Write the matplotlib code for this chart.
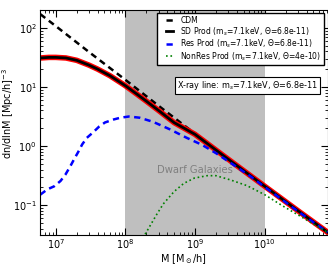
import matplotlib
matplotlib.use("Agg")
import matplotlib.pyplot as plt
from matplotlib.legend_handler import HandlerLine2D

# halo masses [M_sun/h] and dn/dlnM [(Mpc/h)^-3]
cdm_mass = [6e6, 1e7, 3e7, 1e8, 3e8, 1e9, 3e9, 1e10, 3e10, 8e10]
cdm_dn = [170, 107, 39, 13.2, 4.8, 1.62, 0.60, 0.21, 0.081, 0.035]

sd_mass = [6e6, 8e6, 1e7, 1.4e7, 2e7, 3e7, 4e7, 6e7, 1e8, 1.5e8, 2e8, 3e8,
           5e8, 1e9, 3e9, 1e10, 3e10, 8e10]
sd_dn = [30.9, 31.6, 31.6, 30.9, 28.2, 23.4, 20.0, 15.5, 10.5, 7.4, 5.75, 4.0,
         2.5, 1.58, 0.60, 0.21, 0.081, 0.035]

res_mass = [6.0e6, 7.6e6, 9.5e6, 1.17e7, 1.38e7, 1.62e7, 1.82e7, 2.1e7, 2.4e7,
            2.8e7, 3.5e7, 4.2e7, 5.1e7, 6.8e7, 8.5e7, 1.12e8, 1.6e8, 2.5e8,
            4.4e8, 7.6e8, 1.26e9, 2.0e9, 3.5e9, 6.2e9, 1e10, 3e10, 8e10]
res_dn = [0.151, 0.186, 0.209, 0.257, 0.331, 0.457, 0.589, 0.794, 1.07,
          1.38, 1.74, 2.14, 2.51, 2.82, 3.02, 3.16, 3.02, 2.57,
          1.91, 1.38, 1.05, 0.76, 0.49, 0.31, 0.204, 0.079, 0.035]

nonres_mass = [1.78e8, 2.0e8, 2.8e8, 3.5e8, 5e8, 6.9e8, 9.8e8, 1.5e9, 2.0e9,
               3.2e9, 5.6e9, 1e10, 1.8e10, 3.2e10, 5.5e10, 8e10]
nonres_dn = [0.028, 0.035, 0.069, 0.105, 0.17, 0.234, 0.288, 0.316, 0.316,
             0.269, 0.214, 0.151, 0.098, 0.066, 0.045, 0.035]

dwarf_range = (1e8, 1e10)


class ShortLine(HandlerLine2D):
    # draw the legend line only over the right half of the handle box
    def get_xdata(self, legend, xdescent, ydescent, width, height, fontsize):
        xdata, xmark = super().get_xdata(legend, xdescent, ydescent,
                                         width, height, fontsize)
        return [-xdescent + 0.5 * width, width - xdescent], xmark


fig = plt.figure(figsize=(3.28, 2.65), dpi=100)
ax = fig.add_axes([40.3 / 328, 1 - 234.5 / 265, 287.2 / 328, 224.5 / 265])

ax.axvspan(*dwarf_range, color="#bfbfbf", lw=0, zorder=0)
ax.text(1e9, 0.4, "Dwarf Galaxies", color="#808080", fontsize=7.2,
        ha="center", va="center")

ax.plot(cdm_mass, cdm_dn, "k--", lw=1.8, dashes=(2.5, 1.8), label="CDM")
ax.plot(sd_mass, sd_dn, color="red", lw=4)
ax.plot(sd_mass, sd_dn, "k-", lw=2,
        label=r"SD Prod (m$_s$=7.1keV, $\Theta$=6.8e-11)")
ax.plot(res_mass, res_dn, "b--", lw=1.8, dashes=(2.5, 1.8),
        label=r"Res Prod (m$_s$=7.1keV, $\Theta$=6.8e-11)")
ax.plot(nonres_mass, nonres_dn, color="green", ls=":", lw=1.2,
        label=r"NonRes Prod (m$_s$=7.1keV, $\Theta$=4e-10)")

ax.set_xscale("log")
ax.set_yscale("log")
ax.set_xlim(6e6, 8e10)
ax.set_ylim(0.032, 200)
ax.tick_params(which="both", direction="in", top=True, right=True, labelsize=7)
ax.tick_params(which="major", length=5)
ax.tick_params(which="minor", length=2.5)
ax.tick_params(axis="x", pad=2)
ax.tick_params(axis="y", pad=2.5)
ax.set_xlabel(r"M [M$_\odot$/h]", fontsize=7, labelpad=1)
ax.set_ylabel(r"dn/dlnM [Mpc/h]$^{-3}$", fontsize=7)
ax.yaxis.set_label_coords(-0.084, 0.54)

leg = ax.legend(loc="upper right", fontsize=5.5, handlelength=1.8,
                handletextpad=0.9, borderpad=0.35, borderaxespad=0.45,
                labelspacing=0.0, fancybox=False, framealpha=1,
                handler_map={plt.Line2D: ShortLine()})
leg.get_frame().set_edgecolor("black")

ax.text(0.966, 0.663, r"X-ray line: m$_s$=7.1keV, $\Theta$=6.8e-11",
        transform=ax.transAxes, fontsize=5.9, ha="right", va="center",
        bbox=dict(boxstyle="square,pad=0.22", fc="white", ec="black", lw=0.8))

fig.savefig("out.png", dpi=100)
